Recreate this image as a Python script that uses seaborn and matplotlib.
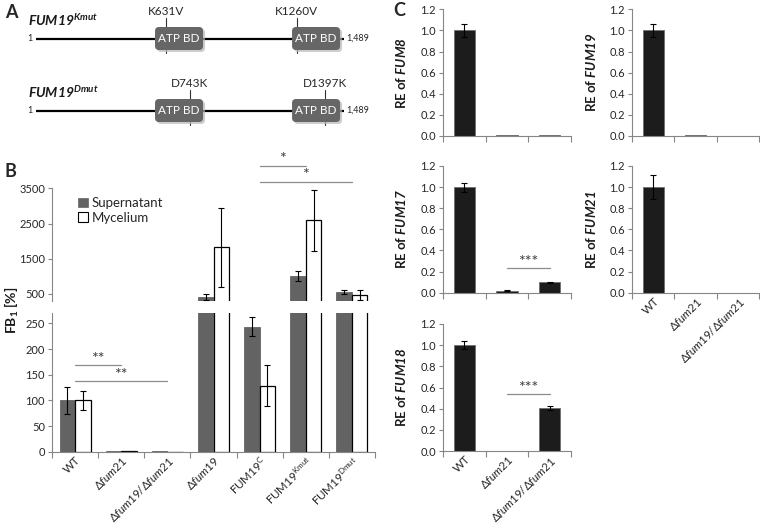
import numpy as np
import pandas as pd
import matplotlib
matplotlib.use("Agg")
import matplotlib.pyplot as plt
from matplotlib.patches import FancyBboxPatch, Patch
from matplotlib.ticker import FixedLocator, FormatStrFormatter
import seaborn as sns

sns.set_style("white")
plt.rcParams['font.family'] = ['Lato', 'DejaVu Sans']
plt.rcParams['mathtext.fontset'] = 'custom'
plt.rcParams['mathtext.rm'] = 'Lato'
plt.rcParams['mathtext.it'] = 'Lato:italic'
plt.rcParams['mathtext.bf'] = 'Lato:bold'
plt.rcParams['mathtext.bfit'] = 'Lato:italic:bold'
plt.rcParams['mathtext.fallback'] = 'stixsans'

# ---------------- data ----------------
# panel A: protein schematic (residue numbers)
protein_length = 1489
atp_domains = [(576, 808), (1238, 1470)]
kmut_sites = [631, 1260]
kmut_labels = ["K631V", "K1260V"]
dmut_sites = [743, 1397]
dmut_labels = ["D743K", "D1397K"]

# panel B: FB1 production [%]
strains_b = ["WT", r"$\Delta\mathit{fum21}$", r"$\Delta\mathit{fum19}$/$\Delta\mathit{fum21}$",
             r"$\Delta\mathit{fum19}$", r"FUM19$^{\mathrm{C}}$", r"FUM19$^{\mathrm{Kmut}}$",
             r"FUM19$^{\mathrm{Dmut}}$"]
supernatant = [100, 1, 1, 415, 244, 1010, 550]
supernatant_err = [27, 0, 0, 90, 18, 130, 60]
mycelium = [100, 2, 0, 1820, 129, 2590, 470]
mycelium_err = [19, 0, 0, 1110, 40, 860, 155]

# panel C: relative expression
strains_c = ["WT", r"$\Delta\mathit{fum21}$", r"$\Delta\mathit{fum19}$/$\Delta\mathit{fum21}$"]
fum8 = [1.0, 0.005, 0.005]
fum8_err = [0.063, 0, 0]
fum19 = [1.0, 0.005, 0.0]
fum19_err = [0.062, 0, 0]
fum17 = [1.0, 0.02, 0.10]
fum17_err = [0.043, 0.005, 0.006]
fum21 = [1.0, 0.0, 0.0]
fum21_err = [0.115, 0, 0]
fum18 = [1.0, 0.003, 0.41]
fum18_err = [0.035, 0, 0.018]

W, H = 760, 528
fig = plt.figure(figsize=(W / 100, H / 100), dpi=100)

SPINE = '#868686'
TXT = '#262626'


def px_axes(left, top, right, bottom):
    return fig.add_axes([left / W, 1 - bottom / H, (right - left) / W, (bottom - top) / H])


def style_axes(ax, n, bottom=True):
    sns.despine(ax=ax, bottom=not bottom)
    for s in ['left', 'bottom']:
        ax.spines[s].set_color(SPINE)
        ax.spines[s].set_linewidth(0.8)
    ax.tick_params(axis='y', which='major', direction='out', length=3, width=0.8,
                   color=SPINE, labelsize=8, labelcolor=TXT, pad=2, left=True)
    ax.set_xlim(-0.5, n - 0.5)
    ax.set_xlabel('')
    if bottom:
        ax.xaxis.set_minor_locator(FixedLocator(np.arange(-0.5, n, 1.0)))
        ax.tick_params(axis='x', which='minor', direction='out', length=4, width=0.8,
                       color=SPINE, bottom=True)
        ax.tick_params(axis='x', which='major', length=0, labelsize=8.3, labelcolor=TXT, pad=2)
    else:
        ax.tick_params(axis='x', which='both', length=0, labelbottom=False)


def add_errors(ax, values_list, errs_list):
    ymin = ax.get_ylim()[0]
    for container, vals, errs in zip(ax.containers, values_list, errs_list):
        for bar, v, e in zip(container, vals, errs):
            if e <= 0 or v + e < ymin:
                continue
            xc = bar.get_x() + bar.get_width() / 2
            ax.errorbar(xc, v, yerr=e, fmt='none', ecolor='black', elinewidth=0.8,
                        capsize=2.5, capthick=0.8, zorder=5)


def sig_bar(ax, x0, x1, y, text, dy):
    ax.plot([x0, x1], [y, y], color='#8c8c8c', lw=0.9, clip_on=False)
    ax.text((x0 + x1) / 2, y + dy, text, ha='center', va='bottom', fontsize=11.5,
            color='#404040', clip_on=False)


# ---------------- panel A ----------------
axA = px_axes(0, 0, 380, 130)
axA.set_xlim(0, 380)
axA.set_ylim(130, 0)
axA.axis('off')


def res_px(r):
    return 36 + (r - 1) * (344 - 36) / (protein_length - 1)


rows = [(38.5, r"$\mathbfit{FUM19}^{\mathbfit{Kmut}}$", kmut_sites, kmut_labels),
        (110.5, r"$\mathbfit{FUM19}^{\mathbfit{Dmut}}$", dmut_sites, dmut_labels)]
for yc, name, sites, labels in rows:
    axA.plot([res_px(1), res_px(protein_length)], [yc, yc], color='black', lw=1.6,
             solid_capstyle='butt', zorder=1)
    axA.text(30, yc, "1", ha='center', va='center', fontsize=6.5, color=TXT)
    axA.text(346, yc, "1,489", ha='left', va='center', fontsize=6.5, color=TXT)
    axA.text(28, yc - 18.5, name, ha='left', va='center', fontsize=10, color='#1a1a1a')
    for s, lab in zip(sites, labels):
        xs = res_px(s)
        axA.plot([xs, xs], [yc - 20.5, yc + 14.5], color='#333333', lw=0.8, zorder=1)
        axA.text(xs, yc - 27, lab, ha='center', va='center', fontsize=8.5, color=TXT)
    for d0, d1 in atp_domains:
        x0, x1 = res_px(d0), res_px(d1)
        shadow = FancyBboxPatch((x0 + 2, yc - 11.5 + 2), x1 - x0, 23,
                                boxstyle="round,pad=0,rounding_size=4",
                                fc='#b8b8b8', ec='none', alpha=0.7, zorder=2)
        box = FancyBboxPatch((x0, yc - 11.5), x1 - x0, 23,
                             boxstyle="round,pad=0,rounding_size=4",
                             fc='#666666', ec='none', zorder=3)
        axA.add_patch(shadow)
        axA.add_patch(box)
        axA.text((x0 + x1) / 2, yc, "ATP BD", ha='center', va='center', fontsize=8.5,
                 color='white', zorder=4)

# ---------------- panel B ----------------
df_b = pd.DataFrame({
    'strain': strains_b * 2,
    'fraction': ['Supernatant'] * len(strains_b) + ['Mycelium'] * len(strains_b),
    'value': supernatant + mycelium,
})
pal_b = {'Supernatant': '#636363', 'Mycelium': 'white'}
edge_b = {'Supernatant': '#555555', 'Mycelium': 'black'}

axB_top = px_axes(52, 188.3, 375, 301)
axB_low = px_axes(52, 313.2, 375, 451.7)
for ax, ylim in [(axB_top, (300, 3500)), (axB_low, (0, 270))]:
    sns.barplot(data=df_b, x='strain', y='value', hue='fraction',
                hue_order=['Supernatant', 'Mycelium'], palette=pal_b, saturation=1,
                width=0.67, gap=0, errorbar=None, legend=False, ax=ax)
    for container, lvl in zip(ax.containers, ['Supernatant', 'Mycelium']):
        for bar in container:
            bar.set_edgecolor(edge_b[lvl])
            bar.set_linewidth(0.9 if lvl == 'Mycelium' else 0.5)
    ax.set_ylim(*ylim)
    add_errors(ax, [supernatant, mycelium], [supernatant_err, mycelium_err])
    ax.set_ylabel('')

axB_top.set_yticks([500, 1500, 2500, 3500])
style_axes(axB_top, len(strains_b), bottom=False)
axB_low.set_yticks([0, 50, 100, 150, 200, 250])
style_axes(axB_low, len(strains_b), bottom=True)
for lab in axB_low.get_xticklabels():
    lab.set_rotation(45)
    lab.set_ha('right')
    lab.set_rotation_mode('anchor')

handles = [Patch(fc='#636363', ec='#636363', lw=0.5, label='Supernatant'),
           Patch(fc='white', ec='black', lw=0.8, label='Mycelium')]
axB_top.legend(handles=handles, loc='upper left', bbox_to_anchor=(0.065, 0.97),
               frameon=False, fontsize=9.5, handlelength=0.7, handleheight=0.7,
               handletextpad=0.3, labelspacing=0.2, borderaxespad=0)

sig_bar(axB_top, 4, 5, 4140, '*', -10)
sig_bar(axB_top, 4, 6, 3680, '*', -10)
sig_bar(axB_low, 0, 1, 169, '**', -2)
sig_bar(axB_low, 0, 2, 138, '**', -2)

fig.text(12 / W, 1 - 310 / H, r"$\mathbf{FB}_{\mathbf{1}}$ $\mathbf{[\%]}$", rotation=90,
         ha='center', va='center', fontsize=10, color='#1a1a1a')

# ---------------- panel C ----------------
panels_c = [
    ((443, 9.3, 571, 136), 'FUM8', fum8, fum8_err, False),
    ((632, 9.3, 759, 136), 'FUM19', fum19, fum19_err, False),
    ((443, 166, 571, 292.7), 'FUM17', fum17, fum17_err, False),
    ((632, 166, 759, 292.7), 'FUM21', fum21, fum21_err, True),
    ((443, 324, 571, 451), 'FUM18', fum18, fum18_err, True),
]
for box, gene, vals, errs, show_labels in panels_c:
    ax = px_axes(*box)
    df_c = pd.DataFrame({'strain': strains_c, 'value': vals})
    sns.barplot(data=df_c, x='strain', y='value', color='#1c1c1c', saturation=1,
                width=0.5, errorbar=None, ax=ax)
    for bar in ax.containers[0]:
        bar.set_edgecolor('#6e6e6e')
        bar.set_linewidth(0.6)
    ax.set_ylim(0, 1.2)
    add_errors(ax, [vals], [errs])
    ax.set_yticks(np.arange(0, 1.21, 0.2))
    ax.yaxis.set_major_formatter(FormatStrFormatter('%.1f'))
    style_axes(ax, len(strains_c), bottom=True)
    ax.set_ylabel(r"RE of $\mathbfit{" + gene + "}$", fontsize=9.5, fontweight='bold',
                  color='#1a1a1a')
    ax.yaxis.set_label_coords(-0.27, 0.5)
    if show_labels:
        for lab in ax.get_xticklabels():
            lab.set_rotation(45)
            lab.set_ha('right')
            lab.set_rotation_mode('anchor')
    else:
        ax.tick_params(axis='x', which='major', labelbottom=False)
    if gene == 'FUM17':
        sig_bar(ax, 1, 2, 0.23, '***', -0.01)
    if gene == 'FUM18':
        sig_bar(ax, 1, 2, 0.54, '***', -0.01)

# panel letters
fig.text(5 / W, 1 - 12 / H, 'A', fontsize=13, fontweight='bold', va='center', ha='left')
fig.text(5 / W, 1 - 172 / H, 'B', fontsize=13, fontweight='bold', va='center', ha='left')
fig.text(393 / W, 1 - 11 / H, 'C', fontsize=13, fontweight='bold', va='center', ha='left')

fig.savefig('out.png', dpi=100)
